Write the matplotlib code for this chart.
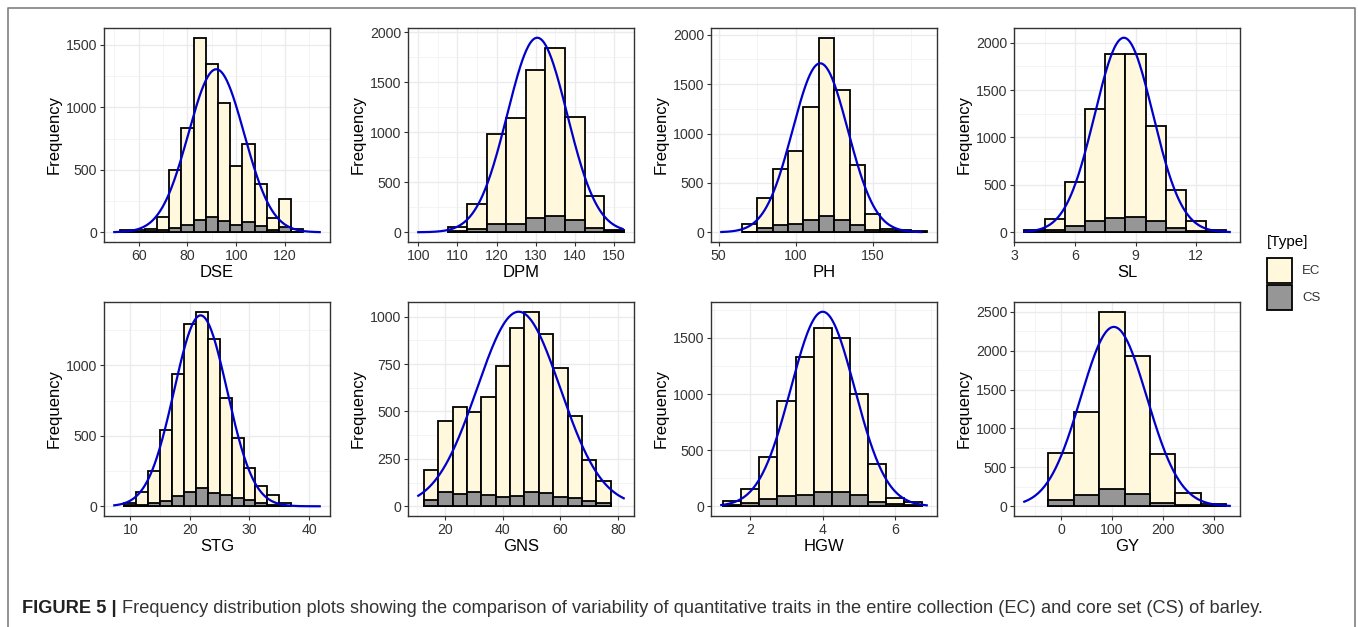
#%%############################################################################
# Frequency distributions of 8 barley traits, entire collection (EC) vs
# core set (CS), with a fitted normal curve on each panel.
###############################################################################
import numpy as np
import matplotlib.pyplot as plt
from matplotlib.patches import Rectangle
from matplotlib.lines import Line2D
from matplotlib.ticker import MultipleLocator, AutoMinorLocator

plt.rcParams['font.family'] = ['Liberation Sans', 'DejaVu Sans']

#%%############################################################################
# Data.
###############################################################################
traits = ['DSE', 'DPM', 'PH', 'SL', 'STG', 'GNS', 'HGW', 'GY']
binWidths = [5, 5, 10, 1, 2, 5, 0.5, 50]

dseBins = [55, 60, 65, 70, 75, 80, 85, 90, 95, 100, 105, 110, 115, 120, 125]
dseEC = [15, 20, 28, 122, 497, 833, 1556, 1344, 1034, 532, 709, 389, 114, 267, 26]
dseCS = [3, 5, 8, 20, 35, 55, 100, 122, 92, 61, 82, 50, 21, 40, 5]

dpmBins = [110, 115, 120, 125, 130, 135, 140, 145, 150]
dpmEC = [50, 281, 987, 1139, 1629, 1848, 1152, 368, 20]
dpmCS = [10, 30, 83, 86, 139, 166, 122, 43, 10]

phBins = [70, 80, 90, 100, 110, 120, 130, 140, 150, 160, 170, 180]
phEC = [84, 349, 641, 819, 1272, 1970, 1440, 678, 185, 34, 25, 10]
phCS = [5, 40, 77, 87, 128, 164, 124, 70, 20, 8, 8, 3]

slBins = [4, 5, 6, 7, 8, 9, 10, 11, 12, 13]
slEC = [28, 140, 534, 1305, 1885, 1885, 1117, 447, 122, 21]
slCS = [10, 20, 63, 122, 150, 160, 115, 42, 10, 3]

stgBins = [10, 12, 14, 16, 18, 20, 22, 24, 26, 28, 30, 32, 34, 36]
stgEC = [23, 99, 251, 540, 939, 1296, 1380, 1183, 768, 486, 275, 146, 77, 26]
stgCS = [10, 12, 23, 35, 70, 99, 127, 94, 80, 59, 47, 23, 8, 3]

gnsBins = [15, 20, 25, 30, 35, 40, 45, 50, 55, 60, 65, 70, 75]
gnsEC = [192, 448, 524, 498, 575, 741, 942, 1023, 907, 731, 474, 245, 131]
gnsCS = [35, 77, 63, 75, 59, 51, 56, 73, 70, 47, 42, 28, 17]

hgwBins = [1.5, 2.0, 2.5, 3.0, 3.5, 4.0, 4.5, 5.0, 5.5, 6.0, 6.5]
hgwEC = [44, 153, 439, 940, 1326, 1591, 1503, 996, 380, 77, 38]
hgwCS = [15, 29, 62, 94, 100, 127, 130, 97, 38, 20, 10]

gyBins = [0, 50, 100, 150, 200, 250, 300]
gyEC = [683, 1214, 2500, 1931, 666, 174, 34]
gyCS = [81, 149, 225, 161, 47, 13, 5]

# fitted normal curves: mean, sd, peak height and the x span drawn
curveMean = [91.8, 130.4, 115.9, 8.42, 21.8, 45.5, 4.0, 104]
curveSD = [11.4, 7.66, 17.9, 1.44, 4.45, 14.45, 0.88, 65]
curvePeak = [1304, 1947, 1711, 2052, 1354, 1026, 1733, 2305]
curveLo = [50.0, 100.0, 51.7, 3.49, 7.3, 10.6, 1.2, -72]
curveHi = [134.2, 152.2, 181.6, 13.66, 41.8, 82.0, 6.87, 331.7]

xTicks = [[60, 80, 100, 120], [100, 110, 120, 130, 140, 150], [50, 100, 150],
          [3, 6, 9, 12], [10, 20, 30, 40], [20, 40, 60, 80], [2, 4, 6],
          [0, 100, 200, 300]]
yStep = [500, 500, 500, 500, 500, 250, 500, 500]

bins = [dseBins, dpmBins, phBins, slBins, stgBins, gnsBins, hgwBins, gyBins]
ecCounts = [dseEC, dpmEC, phEC, slEC, stgEC, gnsEC, hgwEC, gyEC]
csCounts = [dseCS, dpmCS, phCS, slCS, stgCS, gnsCS, hgwCS, gyCS]

#%%############################################################################
# Plot.
###############################################################################
W, H = 1358, 627
fig = plt.figure(figsize=(W / 100, H / 100), dpi=100)

ecColor = '#FFF8DC'
csColor = '#969696'
textColor = '#333333'

colLeft = [104, 408, 711, 1014]
rowTop = [28, 302]
axW, axH = 226, 214

for i, trait in enumerate(traits):
    r, c = divmod(i, 4)
    ax = fig.add_axes([colLeft[c] / W, 1 - (rowTop[r] + axH) / H, axW / W, axH / H])
    bw = binWidths[i]
    centers = np.array(bins[i], dtype=float)

    ax.bar(centers, ecCounts[i], width=bw, color=ecColor, edgecolor='black',
           linewidth=1.3, zorder=2)
    ax.bar(centers, csCounts[i], width=bw, color=csColor, edgecolor='black',
           linewidth=1.3, zorder=3)

    xs = np.linspace(curveLo[i], curveHi[i], 300)
    ys = curvePeak[i] * np.exp(-0.5 * ((xs - curveMean[i]) / curveSD[i]) ** 2)
    ax.plot(xs, ys, color='#0000CD', linewidth=1.6, zorder=4)

    lo = min(curveLo[i], centers[0] - bw / 2)
    hi = max(curveHi[i], centers[-1] + bw / 2)
    pad = 0.05 * (hi - lo)
    ax.set_xlim(lo - pad, hi + pad)
    m = max(max(ecCounts[i]), curvePeak[i])
    ax.set_ylim(-0.05 * m, 1.05 * m)

    ax.set_xticks(xTicks[i])
    ax.yaxis.set_major_locator(MultipleLocator(yStep[i]))
    ax.xaxis.set_minor_locator(AutoMinorLocator(2))
    ax.yaxis.set_minor_locator(AutoMinorLocator(2))
    ax.grid(which='major', color='#EBEBEB', linewidth=1.0, zorder=0)
    ax.grid(which='minor', color='#F2F2F2', linewidth=0.6, zorder=0)
    ax.set_axisbelow(True)
    ax.tick_params(which='minor', length=0)
    ax.tick_params(which='major', length=2.8, width=0.8, color='#333333',
                   labelsize=10.2, labelcolor=textColor, pad=2.2)
    for s in ax.spines.values():
        s.set_color('#333333')
        s.set_linewidth(1.0)

    ax.set_xlabel(trait, fontsize=12, color='black', labelpad=1.5)
    ax.set_ylabel('Frequency', fontsize=12, color='black', labelpad=3)

# legend
def fx(px):
    return px / W

def fy(py):
    return 1 - py / H

fig.text(fx(1267), fy(242), '[Type]', fontsize=11, color='black', va='center', ha='left')
fig.add_artist(Rectangle((fx(1267), fy(283)), fx(25), 25 / H, transform=fig.transFigure,
                         facecolor=ecColor, edgecolor='black', linewidth=1.3))
fig.add_artist(Rectangle((fx(1267), fy(310)), fx(25), 25 / H, transform=fig.transFigure,
                         facecolor=csColor, edgecolor='black', linewidth=1.3))
fig.text(fx(1302), fy(271), 'EC', fontsize=9.5, color=textColor, va='center', ha='left')
fig.text(fx(1302), fy(298), 'CS', fontsize=9.5, color=textColor, va='center', ha='left')

# outer frame
frameColor = '#7F7F7F'
fig.add_artist(Line2D([fx(7.5), fx(7.5), fx(1355), fx(1355)],
                      [0, fy(7.5), fy(7.5), 0], transform=fig.transFigure,
                      color=frameColor, linewidth=1.2))

# caption, fitted to the reference width
boldPart = 'FIGURE 5 | '
restPart = ('Frequency distribution plots showing the comparison of variability of '
            'quantitative traits in the entire collection (EC) and core set (CS) of barley.')
baseSize = 11.0
tb = fig.text(fx(22), fy(613), boldPart, fontsize=baseSize, fontweight='bold',
              color='#222222', va='baseline', ha='left')
tr = fig.text(fx(22), fy(613), restPart, fontsize=baseSize, color='#333333',
              va='baseline', ha='left')
renderer = fig.canvas.get_renderer()
wb = tb.get_window_extent(renderer).width
wr = tr.get_window_extent(renderer).width
size = baseSize * (1262 - 22) / (wb + wr)
tb.set_fontsize(size)
tr.set_fontsize(size)
wb = tb.get_window_extent(renderer).width
tr.set_x(fx(22 + wb))

fig.savefig('out.png', dpi=100)
